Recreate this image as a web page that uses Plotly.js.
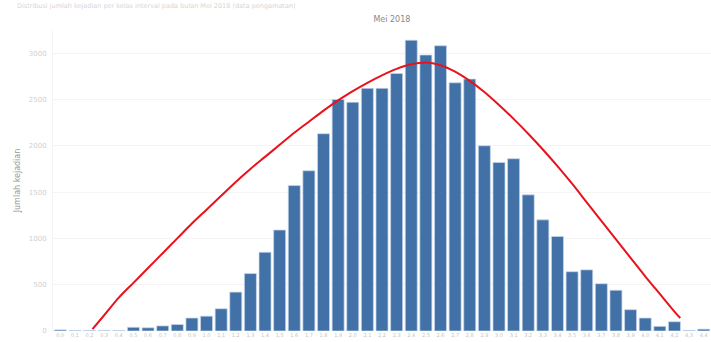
<!DOCTYPE html>
<html>
<head>
<meta charset="utf-8">
<script src="https://cdn.plot.ly/plotly-3.0.1.min.js"></script>
<style>html,body{margin:0;padding:0;background:#fff;}#chart{width:711px;height:342px;}</style>
</head>
<body>
<div id="chart"></div>
<script>
const categories = ["0,0","0,1","0,2","0,3","0,4","0,5","0,6","0,7","0,8","0,9","1,0","1,1","1,2","1,3","1,4","1,5","1,6","1,7","1,8","1,9","2,0","2,1","2,2","2,3","2,4","2,5","2,6","2,7","2,8","2,9","3,0","3,1","3,2","3,3","3,4","3,5","3,6","3,7","3,8","3,9","4,0","4,1","4,2","4,3","4,4"];
const barValues = [12,5,5,5,5,40,35,55,70,140,160,240,420,620,850,1090,1570,1730,2130,2500,2470,2620,2620,2780,3140,2980,3080,2680,2720,2000,1820,1860,1470,1200,1020,640,660,510,440,230,140,50,100,6,20];
const curveX = [2.2,3,4,5,6,7,8,9,10,11,12,13,14,15,16,17,18,19,20,21,22,23,24,25,26,27,28,29,30,31,32,33,34,35,36,37,38,39,40,41,42,42.4];
const curveValues = [20,170,360,520,680,840,1000,1160,1310,1460,1610,1750,1880,2010,2140,2260,2380,2490,2590,2680,2760,2830,2880,2900,2870,2800,2700,2580,2440,2290,2130,1960,1780,1590,1390,1190,990,790,590,400,210,140];
const yTicks = [0,500,1000,1500,2000,2500,3000];
const titleText = "Mei 2018";
const yTitle = "Jumlah kejadian";
const topNote = "Distribusi jumlah kejadian per kelas interval pada bulan Mei 2018 (data pengamatan)";

const idx = categories.map((c,i)=>i);
const traces = [
  {type:'bar', x: idx, y: barValues, marker:{color:'#4171a6', line:{color:'rgba(200,215,235,0.7)', width:1}}, hoverinfo:'skip'},
  {type:'scatter', mode:'lines', x: curveX, y: curveValues, line:{color:'#e8121c', width:2, shape:'spline', smoothing:0.8}, hoverinfo:'skip'}
];
const layout = {
  width:711, height:342,
  margin:{l:53, r:0, t:30, b:11},
  paper_bgcolor:'#fff', plot_bgcolor:'#fff',
  showlegend:false,
  bargap:0.18,
  title:{text:titleText, xref:'paper', x:0.515, xanchor:'center', y:0.945, yanchor:'middle', font:{family:'DejaVu Sans', size:8, color:'#888'}},
  xaxis:{range:[-0.5,44.5], tickmode:'array', tickvals:idx, ticktext:categories, tickangle:0,
         tickfont:{family:'DejaVu Sans', size:5, color:'#c4c4c4'}, showgrid:false, zeroline:false, showline:false, ticks:'', ticklen:0},
  yaxis:{range:[0,3250], tickmode:'array', tickvals:yTicks, ticktext:yTicks.map(String),
         tickfont:{family:'DejaVu Sans', size:7, color:'#cfcfcf'}, gridcolor:'#f4f4f4', gridwidth:1, zeroline:false,
         showline:true, linecolor:'#f4f4f4', ticks:'', ticklabelstandoff:4,
         title:{text:yTitle, font:{family:'DejaVu Sans', size:8, color:'#999'}, standoff:6}},
  annotations:[{xref:'paper', yref:'paper', x:-0.058, y:1.0997, xanchor:'left', yanchor:'top', showarrow:false,
    text:topNote, font:{family:'DejaVu Sans', size:6.5, color:'#d6d6d6'}}]
};
Plotly.newPlot('chart', traces, layout, {staticPlot:true, displayModeBar:false});
</script>
</body>
</html>
